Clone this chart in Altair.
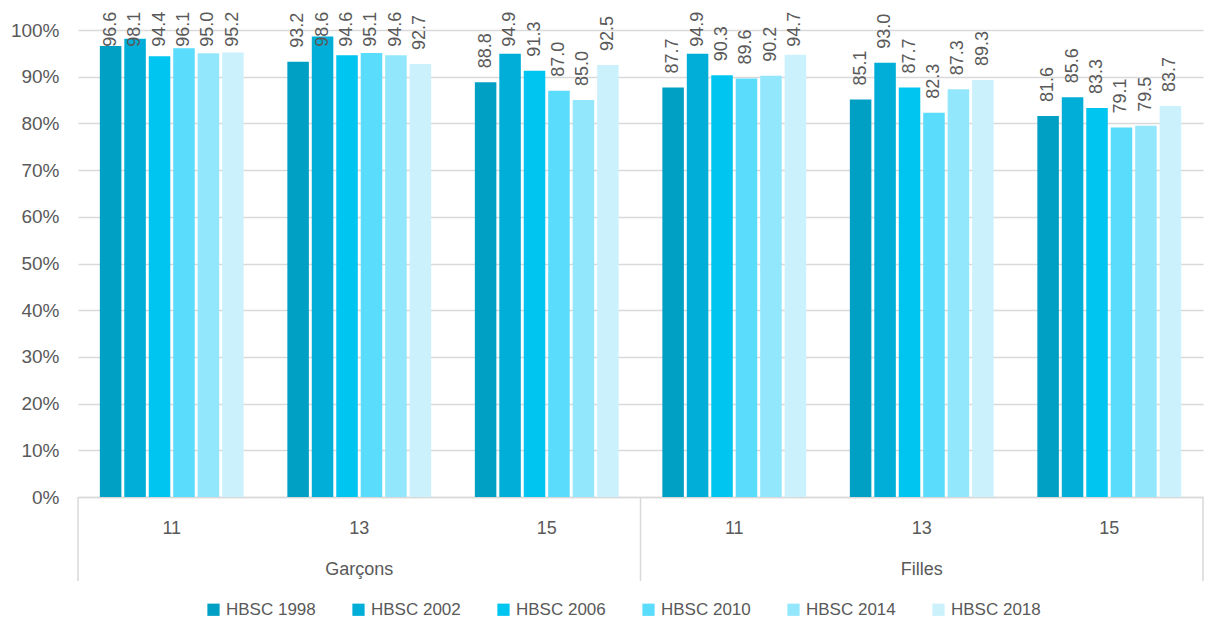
import altair as alt
import pandas as pd

groups = ["Garçons 11", "Garçons 13", "Garçons 15", "Filles 11", "Filles 13", "Filles 15"]
series = ["HBSC 1998", "HBSC 2002", "HBSC 2006", "HBSC 2010", "HBSC 2014", "HBSC 2018"]
colors = ["#009FC4", "#00AED8", "#00C5F0", "#5ADCFC", "#92E7FC", "#CBF2FC"]

v1998 = [96.6, 93.2, 88.8, 87.7, 85.1, 81.6]
v2002 = [98.1, 98.6, 94.9, 94.9, 93.0, 85.6]
v2006 = [94.4, 94.6, 91.3, 90.3, 87.7, 83.3]
v2010 = [96.1, 95.1, 87.0, 89.6, 82.3, 79.1]
v2014 = [95.0, 94.6, 85.0, 90.2, 87.3, 79.5]
v2018 = [95.2, 92.7, 92.5, 94.7, 89.3, 83.7]

sexes = ["Garçons", "Filles"]
sex_mid = ["Garçons 13", "Filles 13"]

W, H = 1125, 467
FONT = "Liberation Sans"
GREY = "#595959"

rows = []
for s, vals in zip(series, [v1998, v2002, v2006, v2010, v2014, v2018]):
    for g, v in zip(groups, vals):
        rows.append({"grp": g, "series": s, "value": v})
df = pd.DataFrame(rows)

xscale = alt.Scale(domain=groups, paddingInner=0.22, paddingOuter=0.11)
xenc = alt.X("grp:N", sort=groups, title=None, scale=xscale,
             axis=alt.Axis(labelExpr="split(datum.value, ' ')[1]", labelAngle=0,
                           labelFontSize=18, labelColor=GREY, labelFont=FONT,
                           labelPadding=22, ticks=False, domainColor="#D9D9D9",
                           domainWidth=1.5))
xoff = alt.XOffset("series:N", sort=series,
                   scale=alt.Scale(paddingInner=0.12, paddingOuter=0.05))

base = alt.Chart(df)

bars = base.mark_bar().encode(
    x=xenc,
    xOffset=xoff,
    y=alt.Y("value:Q", title=None,
            scale=alt.Scale(domain=[0, 100], nice=False),
            axis=alt.Axis(values=list(range(0, 101, 10)), labelExpr="datum.value + '%'",
                          labelFontSize=19, labelColor=GREY, labelFont=FONT,
                          labelPadding=19, ticks=False, domain=False,
                          gridColor="#D9D9D9", gridWidth=1.5)),
    color=alt.Color("series:N", sort=series,
                    scale=alt.Scale(domain=series, range=colors),
                    legend=alt.Legend(title=None, orient="none", direction="horizontal",
                                      legendX=127, legendY=571,
                                      symbolType="square", symbolSize=150,
                                      symbolStrokeWidth=0, labelFontSize=17,
                                      labelColor=GREY, labelFont=FONT,
                                      labelOffset=4, columnPadding=34)),
)

labels = base.transform_calculate(
    ly="min(datum.value, 93.4)"
).mark_text(angle=270, align="left", baseline="middle", dx=14,
            fontSize=18, font=FONT, color=GREY).encode(
    x=alt.X("grp:N", sort=groups, scale=xscale),
    xOffset=xoff,
    y=alt.Y("ly:Q"),
    text=alt.Text("value:Q", format=".1f"),
)

sep_pos = [0, W / 2, W]
seps = alt.layer(*[
    alt.Chart(pd.DataFrame({"p": [p]})).mark_rule(color="#D9D9D9", strokeWidth=1.5).encode(
        x=alt.value(p), y=alt.value(H), y2=alt.value(H + 84))
    for p in sep_pos
])

sex_df = pd.DataFrame({"sex": sexes, "grp": sex_mid})
sex_text = alt.Chart(sex_df).mark_text(fontSize=18, font=FONT, color=GREY,
                                       baseline="middle").encode(
    x=alt.X("grp:N", sort=groups, scale=xscale),
    y=alt.value(H + 73),
    text="sex:N",
)

chart = alt.layer(bars, labels, sex_text, seps).properties(
    width=W, height=H,
    autosize=alt.AutoSizeParams(type="none"),
    padding={"left": 70, "top": 22, "right": 3, "bottom": 121},
).configure_view(stroke=None)

chart.save("out.html", embed_options={"renderer": "svg", "actions": False})
